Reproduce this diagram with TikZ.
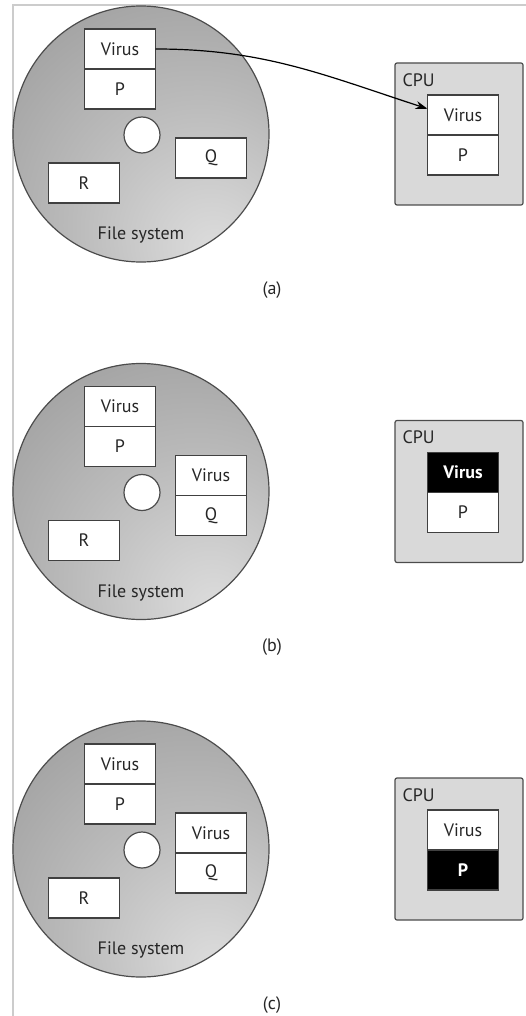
\documentclass[tikz,border=0pt]{standalone}
\usepackage{fontspec}
\setmainfont{PT Sans}
\usepackage{tikz}
\usetikzlibrary{positioning, arrows.meta}
\pgfdeclareradialshading{diskshade}{\pgfpoint{15bp}{-24bp}}{%
  color(0bp)=(black!13); color(25bp)=(black!27); color(55bp)=(black!42);
  color(80bp)=(black!50); color(100bp)=(black!50)}
\tikzset{
  x=1pt, y=1pt,
  >={Stealth[length=12pt,width=8pt]},
  every node/.style={font=\fontsize{18}{20}\selectfont, text=black!85},
  frame/.style={draw=black!20, line width=2pt},
  disk/.style={circle, draw=black!70, line width=1.2pt, shading=diskshade, minimum size=256pt, inner sep=0pt},
  hole/.style={circle, draw=black!70, line width=1.2pt, fill=white, minimum size=36pt, inner sep=0pt},
  fbox/.style={rectangle, draw=black!75, line width=1.2pt, fill=white, minimum width=71pt, minimum height=40pt, inner sep=0pt, outer sep=0pt},
  inv/.style={fill=black, text=white, font=\fontsize{18}{20}\selectfont\bfseries},
  cpu/.style={rectangle, draw=black!70, line width=1.2pt, fill=black!15, rounded corners=2pt, minimum width=128pt, minimum height=142pt},
  txt/.style={inner sep=0pt},
}
\begin{document}
\begin{tikzpicture}
  \useasboundingbox (0,0) rectangle (526,-1016);
  \draw[frame] (13,-1016) -- (13,-5) -- (526,-5);

  \foreach \p/\k in {a/0,b/1,c/2} {
    \begin{scope}[yshift=-\k*357.5pt]
      \node[disk] (fs\p) at (141,-134) {};
      \node[fbox] (v\p) at (120,-49) {Virus};
      \node[fbox,below=0pt of v\p] (p\p) {P};
      \node[hole] (h\p) at (142,-135) {};
      \node[fbox] (q\p) at (211,-158) {Q};
      \node[fbox] (r\p) at (84,-183) {R};
      \node[txt] (fsl\p) at (141,-235) {File system};
      \node[txt] (cap\p) at (272,-290) {(\p)};
      \node[cpu] (cpu\p) at (459,-134) {};
      \node[txt,below right=11pt and 8pt of cpu\p.north west] (cpul\p) {CPU};
    \end{scope}
  }

  % programs in the CPU
  \node[fbox] (cva) at (463,-115) {Virus};
  \node[fbox,below=0pt of cva] (cpa) {P};
  \node[fbox,inv] (cvb) at (463,-472.5) {Virus};
  \node[fbox,below=0pt of cvb] (cpb) {P};
  \node[fbox] (cvc) at (463,-830) {Virus};
  \node[fbox,inv,below=0pt of cvc] (cpc) {P};

  % Q after infection
  \node[fbox,above=0pt of qb] (qvb) {Virus};
  \node[fbox,above=0pt of qc] (qvc) {Virus};

  \draw[->, line width=1.2pt] (va.east) to[out=0,in=162] (cva.170);
\end{tikzpicture}
\end{document}
